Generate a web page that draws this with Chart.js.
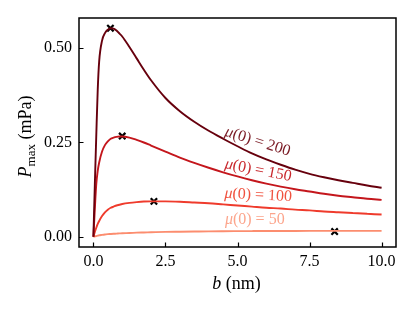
<!DOCTYPE html>
<html>
<head>
<meta charset="utf-8">
<script src="https://cdn.jsdelivr.net/npm/chart.js@4/dist/chart.umd.min.js"></script>
<style>
  html, body { margin: 0; padding: 0; background: #fff; }
  #wrap { width: 415px; height: 311px; }
</style>
</head>
<body>
<div id="wrap"><canvas id="plot" width="415" height="311"></canvas></div>
<script>
// b values (nm) shared by every curve
let bValues = [0, 0.05, 0.1, 0.15, 0.2, 0.3, 0.4, 0.5, 0.6, 0.7, 0.8, 0.9, 1.0, 1.25, 1.5, 1.75, 2, 2.5,
               3, 3.5, 4, 4.5, 5, 5.5, 6, 6.5, 7, 7.5, 8, 8.5, 9, 9.5, 10];

// P_max (mPa)
let pMu200 = [0, 0.14, 0.27, 0.39, 0.465, 0.52, 0.54, 0.549, 0.553, 0.552, 0.547, 0.539, 0.531, 0.503, 0.473, 0.443, 0.415, 0.368,
              0.333, 0.305, 0.281, 0.26, 0.24, 0.221, 0.205, 0.191, 0.178, 0.167, 0.158, 0.15, 0.143, 0.136, 0.13];
let pMu150 = [0, 0.075, 0.14, 0.175, 0.197, 0.226, 0.243, 0.253, 0.26, 0.263, 0.265, 0.266, 0.266, 0.263, 0.257, 0.25, 0.242, 0.226,
              0.21, 0.196, 0.183, 0.171, 0.16, 0.15, 0.141, 0.133, 0.126, 0.12, 0.114, 0.109, 0.105, 0.101, 0.098];
let pMu100 = [0, 0.013, 0.024, 0.034, 0.042, 0.055, 0.065, 0.072, 0.077, 0.080, 0.083, 0.085, 0.087, 0.090, 0.092, 0.0935, 0.094, 0.094,
              0.093, 0.091, 0.089, 0.086, 0.083, 0.08, 0.077, 0.075, 0.072, 0.07, 0.067, 0.065, 0.063, 0.061, 0.059];
let pMu50  = [0, 0.001, 0.002, 0.003, 0.004, 0.005, 0.006, 0.007, 0.0075, 0.008, 0.0085, 0.009, 0.0095, 0.010, 0.011, 0.0115, 0.012, 0.013,
              0.0135, 0.014, 0.0145, 0.0148, 0.015, 0.0152, 0.0154, 0.0155, 0.0156, 0.0157, 0.0158, 0.0158, 0.0158, 0.0158, 0.0158];

// maxima marked with x
let peakB = [0.59, 1.0, 2.1, 8.37];
let peakP = [0.553, 0.267, 0.094, 0.014];

let muLabels = ["μ(0) = 200", "μ(0) = 150", "μ(0) = 100", "μ(0) = 50"];
let lineColors = ["#67000d", "#c4161c", "#ef3b2c", "#fc8d6f"];
let labelColors = ["#7a1a24", "#c9282d", "#f0523f", "#fca58c"];
// where each inline label sits (data coords) and its tilt in degrees
let labelB = [5.7, 5.72, 5.72, 5.6];
let labelP = [0.252, 0.176, 0.110, 0.045];
let labelAngle = [17.5, 11, 3, 0];

let xTicks = [0, 2.5, 5, 7.5, 10];
let yTicks = [0, 0.25, 0.5];

function curve(vals) {
    return bValues.map((b, i) => ({ x: b, y: vals[i] }));
}

const serif = "'Liberation Serif', 'DejaVu Serif', serif";

let datasets = [pMu200, pMu150, pMu100, pMu50].map((vals, i) => ({
    type: "line",
    data: curve(vals),
    borderColor: lineColors[i],
    borderWidth: 1.9,
    pointRadius: 0,
    fill: false,
    cubicInterpolationMode: "monotone"
}));

datasets.push({
    type: "scatter",
    data: peakB.map((b, i) => ({ x: b, y: peakP[i] })),
    pointStyle: "crossRot",
    pointRadius: 4.5,
    borderColor: "#000",
    borderWidth: 2.2
});

const decor = {
    id: "decor",
    afterDraw(chart) {
        let ctx = chart.ctx;
        let a = chart.chartArea;
        let xs = chart.scales.x, ys = chart.scales.y;
        ctx.save();

        // inward ticks
        ctx.strokeStyle = "#000";
        ctx.lineWidth = 1.2;
        ctx.beginPath();
        xTicks.forEach(t => {
            let px = Math.round(xs.getPixelForValue(t)) + 0.5;
            ctx.moveTo(px, a.bottom);
            ctx.lineTo(px, a.bottom - 4.5);
        });
        yTicks.forEach(t => {
            let py = Math.round(ys.getPixelForValue(t)) + 0.5;
            ctx.moveTo(a.left, py);
            ctx.lineTo(a.left + 4.5, py);
        });
        ctx.stroke();

        // frame
        ctx.lineWidth = 1.5;
        ctx.strokeRect(a.left, a.top, a.right - a.left, a.bottom - a.top);

        // inline curve labels
        ctx.textBaseline = "middle";
        muLabels.forEach((txt, i) => {
            let px = xs.getPixelForValue(labelB[i]);
            let py = ys.getPixelForValue(labelP[i]);
            ctx.save();
            ctx.translate(px, py);
            ctx.rotate(labelAngle[i] * Math.PI / 180);
            ctx.fillStyle = labelColors[i];
            let mu = "μ", rest = txt.slice(1);
            ctx.font = "italic 16px " + serif;
            let w1 = ctx.measureText(mu).width;
            ctx.font = "16px " + serif;
            let w2 = ctx.measureText(rest).width;
            let x0 = -(w1 + w2) / 2;
            ctx.font = "italic 16px " + serif;
            ctx.textAlign = "left";
            ctx.fillText(mu, x0, 0);
            ctx.font = "16px " + serif;
            ctx.fillText(rest, x0 + w1, 0);
            ctx.restore();
        });

        // x axis title: b (nm)
        ctx.fillStyle = "#000";
        ctx.textBaseline = "alphabetic";
        ctx.textAlign = "left";
        ctx.font = "italic 18px " + serif;
        let wb = ctx.measureText("b").width;
        ctx.font = "18px " + serif;
        let wr = ctx.measureText(" (nm)").width;
        let cx = (a.left + a.right) / 2 - 1;
        let x0 = cx - (wb + wr) / 2;
        ctx.font = "italic 18px " + serif;
        ctx.fillText("b", x0, 289);
        ctx.font = "18px " + serif;
        ctx.fillText(" (nm)", x0 + wb, 289);

        // y axis title: P_max (mPa)
        ctx.save();
        ctx.translate(31, (a.top + a.bottom) / 2 + 4);
        ctx.rotate(-Math.PI / 2);
        ctx.font = "italic 18px " + serif;
        let wp = ctx.measureText("P").width;
        ctx.font = "13px " + serif;
        let wm = ctx.measureText("max").width;
        ctx.font = "18px " + serif;
        let wu = ctx.measureText(" (mPa)").width;
        let y0 = -(wp + wm + wu) / 2;
        ctx.font = "italic 18px " + serif;
        ctx.fillText("P", y0, 0);
        ctx.font = "13px " + serif;
        ctx.fillText("max", y0 + wp, 4);
        ctx.font = "18px " + serif;
        ctx.fillText(" (mPa)", y0 + wp + wm, 0);
        ctx.restore();

        ctx.restore();
    }
};

new Chart(document.getElementById("plot").getContext("2d"), {
    data: { datasets: datasets },
    options: {
        responsive: false,
        animation: false,
        events: [],
        layout: { padding: { top: 18, right: 19, left: 0, bottom: 0 } },
        plugins: { legend: { display: false }, tooltip: { enabled: false } },
        scales: {
            x: {
                type: "linear",
                min: -0.5,
                max: 10.5,
                afterBuildTicks: s => { s.ticks = xTicks.map(v => ({ value: v })); },
                afterFit: s => { s.height = 64; },
                grid: { display: false, drawTicks: false },
                border: { display: false },
                ticks: {
                    padding: 5,
                    color: "#000",
                    font: { family: serif, size: 16 },
                    maxRotation: 0,
                    callback: v => v.toFixed(1)
                }
            },
            y: {
                type: "linear",
                min: -0.027,
                max: 0.58,
                afterBuildTicks: s => { s.ticks = yTicks.map(v => ({ value: v })); },
                afterFit: s => { s.width = 79; },
                grid: { display: false, drawTicks: false },
                border: { display: false },
                ticks: {
                    padding: 7,
                    color: "#000",
                    font: { family: serif, size: 16 },
                    callback: v => v.toFixed(2)
                }
            }
        }
    },
    plugins: [decor]
});
</script>
</body>
</html>
